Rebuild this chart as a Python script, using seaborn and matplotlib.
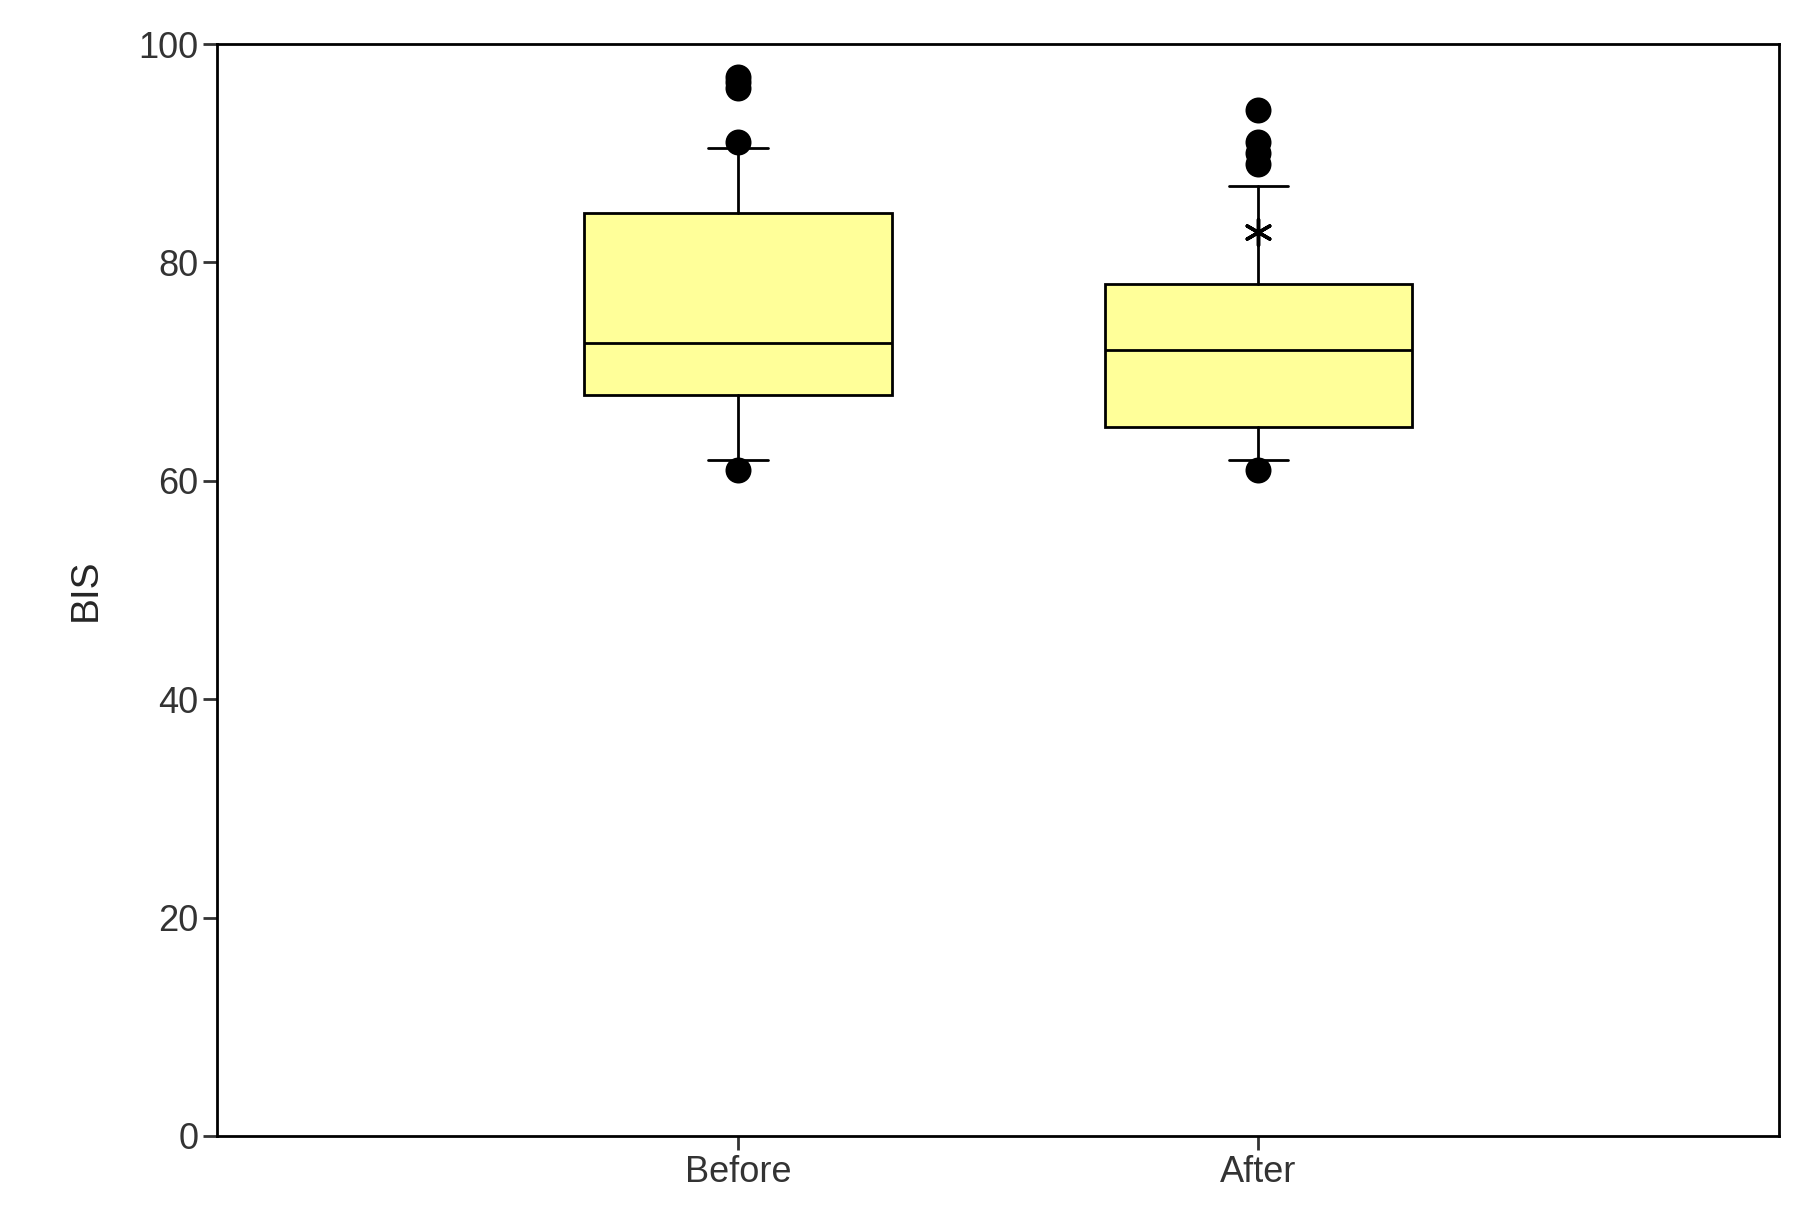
import matplotlib
matplotlib.use("Agg")
import matplotlib.pyplot as plt
import seaborn as sns
import pandas as pd

categories = ["Before", "After"]
q1 = [67.9, 64.9]
med = [72.6, 72.0]
q3 = [84.5, 78.0]
whislo = [61.9, 61.9]
whishi = [90.5, 87.0]
out_before = [97.0, 96.5, 96.0, 91.0, 61.0]
out_after = [94.0, 91.0, 90.0, 89.0, 61.0]
star_after = [82.8]

sns.set_theme(style="ticks")
plt.rcParams['font.family'] = ['Liberation Sans', 'DejaVu Sans']

fig = plt.figure(figsize=(17.97, 12.24), dpi=100)
ax = fig.add_axes([0.121, 0.072, 0.869, 0.892])

stats = []
for i, c in enumerate(categories):
    stats.append(dict(label=c, q1=q1[i], med=med[i], q3=q3[i],
                      whislo=whislo[i], whishi=whishi[i], fliers=[]))
ax.bxp(stats, positions=[0, 1], widths=0.59, patch_artist=True,
       showfliers=False, capwidths=0.115,
       boxprops=dict(facecolor="#FFFF99", edgecolor="black", linewidth=2),
       medianprops=dict(color="black", linewidth=2),
       whiskerprops=dict(color="black", linewidth=2),
       capprops=dict(color="black", linewidth=2))

df = pd.DataFrame({"x": [0]*len(out_before) + [1]*len(out_after),
                   "y": out_before + out_after})
sns.scatterplot(data=df, x="x", y="y", ax=ax, color="black", s=300,
                edgecolor="black", zorder=5, legend=False)
ax.scatter([1]*len(star_after), star_after, marker=(6, 2, 0), s=350,
           color="black", linewidths=2.5, zorder=5)

ax.set_xlim(-1.0, 2.0)
ax.set_ylim(0, 100)
ax.set_xticks([0, 1])
ax.set_xticklabels(categories)
ax.set_yticks([0, 20, 40, 60, 80, 100])
ax.set_xlabel("")
ax.set_ylabel("BIS", fontsize=28, labelpad=25)
ax.tick_params(labelsize=26, width=2, length=10, colors="#333333")
for s in ax.spines.values():
    s.set_linewidth(2)
    s.set_color("black")
fig.savefig("out.png", dpi=100)
